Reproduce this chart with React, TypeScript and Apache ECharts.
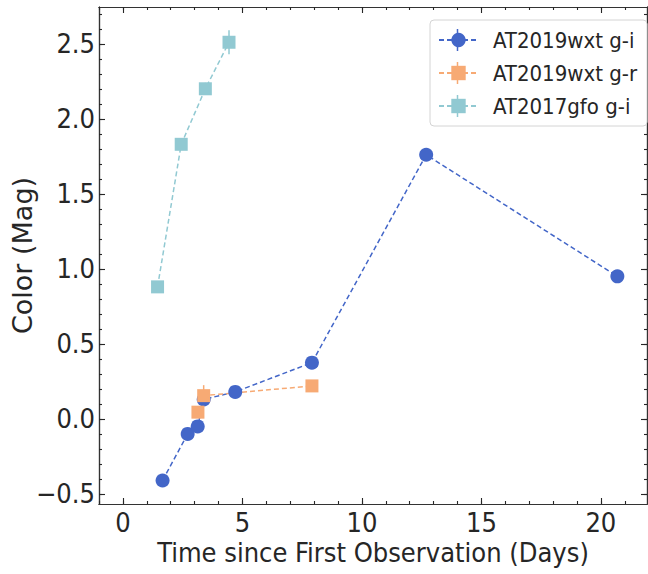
import React, { useEffect, useRef } from 'react';
import * as echarts from 'echarts';

// ---- data ----
const giName = 'AT2019wxt g-i';
const giX = [1.66, 2.71, 3.13, 3.38, 4.7, 7.91, 12.69, 20.69];
const giY = [-0.41, -0.1, -0.05, 0.13, 0.18, 0.375, 1.76, 0.95];
const giErr = [0.03, 0.03, 0.03, 0.03, 0.03, 0.03, 0.03, 0.03];

const grName = 'AT2019wxt g-r';
const grX = [3.14, 3.38, 7.91];
const grY = [0.045, 0.155, 0.22];
const grErr = [0.03, 0.07, 0.03];

const gfoName = 'AT2017gfo g-i';
const gfoX = [1.45, 2.44, 3.45, 4.44];
const gfoY = [0.88, 1.83, 2.2, 2.51];
const gfoErr = [0.03, 0.03, 0.04, 0.08];

// ---- ticks ----
const xMajor = [0, 5, 10, 15, 20];
const xMinor = [-1, 0, 1, 2, 3, 4, 5, 6, 7, 8, 9, 10, 11, 12, 13, 14, 15, 16, 17, 18, 19, 20, 21];
const yMajor = [-0.5, 0, 0.5, 1, 1.5, 2, 2.5];
const yMinor = [-0.5, -0.4, -0.3, -0.2, -0.1, 0, 0.1, 0.2, 0.3, 0.4, 0.5, 0.6, 0.7, 0.8, 0.9, 1, 1.1, 1.2, 1.3, 1.4, 1.5, 1.6, 1.7, 1.8, 1.9, 2, 2.1, 2.2, 2.3, 2.4, 2.5, 2.6, 2.7];

const xTitle = 'Time since First Observation (Days)';
const yTitle = 'Color (Mag)';

const X_MIN = -1;
const X_MAX = 21.93;
const Y_MIN = -0.567;
const Y_MAX = 2.745;

const C_GI = '#4366c8';
const C_GR = '#f7aa74';
const C_GFO = '#91c9d2';

const FONT_C = '"DejaVu Sans Condensed", "DejaVu Sans", sans-serif';
const FONT = '"DejaVu Sans", sans-serif';
const INK = '#262626';

// legend geometry
const LEG_LEFT = 430;
const LEG_TOP = 20;
const LEG_PAD = [8, 10, 8, 8];
const LEG_ICON_W = 39;
const LEG_ROW_H = 24;
const LEG_GAP = 9;

function axis(dir: 'x' | 'y', position: string, ticks: number[], len: number, extra: any = {}) {
  return {
    type: 'value',
    position,
    min: dir === 'x' ? X_MIN : Y_MIN,
    max: dir === 'x' ? X_MAX : Y_MAX,
    splitLine: { show: false },
    axisLine: { show: true, onZero: false, lineStyle: { color: '#333', width: 1.2 } },
    axisTick: { show: true, inside: true, length: len, customValues: ticks, lineStyle: { color: INK, width: 1.1 } },
    axisLabel: { show: false },
    ...extra,
  };
}

function errSeries(name: string, xs: number[], ys: number[], es: number[], color: string) {
  return {
    type: 'custom',
    name,
    xAxisIndex: 0,
    yAxisIndex: 0,
    silent: true,
    dimensions: ['x', 'y', 'e'],
    encode: { x: 0, y: 1 },
    data: xs.map((x, i) => [x, ys[i], es[i]]),
    renderItem: (_p: any, api: any) => {
      const x = api.value(0);
      const y = api.value(1);
      const e = api.value(2);
      const a = api.coord([x, y - e]);
      const b = api.coord([x, y + e]);
      return {
        type: 'line',
        shape: { x1: a[0], y1: a[1], x2: b[0], y2: b[1] },
        style: { stroke: color, lineWidth: 1.5 },
      };
    },
  };
}

function lineSeries(name: string, xs: number[], ys: number[], color: string, symbol: string, size: number) {
  return {
    type: 'line',
    name,
    xAxisIndex: 0,
    yAxisIndex: 0,
    data: xs.map((x, i) => [x, ys[i]]),
    symbol,
    symbolSize: size,
    showSymbol: true,
    lineStyle: { color, width: 1.5, type: [5, 3] },
    itemStyle: { color, opacity: 1 },
  };
}

export default function App() {
  const ref = useRef<HTMLDivElement>(null);
  useEffect(() => {
    document.body.style.margin = '0';
    const chart = echarts.init(ref.current!, null, { renderer: 'svg' });
    const fmt = (v: number) => (v < 0 ? '\u2212' + Math.abs(v).toFixed(1) : v.toFixed(1));
    const legendColors = [C_GI, C_GR, C_GFO];
    const whiskers = legendColors.map((c, i) => {
      const cy = LEG_TOP + LEG_PAD[0] + LEG_ROW_H / 2 + i * (LEG_ROW_H + LEG_GAP);
      const cx = LEG_LEFT + LEG_PAD[3] + LEG_ICON_W / 2;
      return {
        type: 'line',
        z: 100,
        silent: true,
        shape: { x1: cx, y1: cy - 11, x2: cx, y2: cy + 11 },
        style: { stroke: c, lineWidth: 1.5 },
      };
    });
    chart.setOption({
      animation: false,
      backgroundColor: '#ffffff',
      grid: { left: 99, top: 7, right: 1, bottom: 70, containLabel: false, outerBoundsMode: 'none' },
      xAxis: [
        axis('x', 'bottom', xMajor, 6, {
          axisLabel: { show: true, customValues: xMajor, margin: 5, fontSize: 27, fontFamily: FONT_C, color: INK },
          name: xTitle,
          nameLocation: 'middle',
          nameGap: 35,
          nameMoveOverlap: false,
          nameTextStyle: { fontSize: 27, fontFamily: FONT_C, color: INK },
        }),
        axis('x', 'bottom', xMinor, 3),
        axis('x', 'top', xMajor, 6),
        axis('x', 'top', xMinor, 3),
      ],
      yAxis: [
        axis('y', 'left', yMajor, 6, {
          axisLabel: { show: true, customValues: yMajor, margin: 4, fontSize: 27, fontFamily: FONT_C, color: INK, formatter: fmt },
          name: yTitle,
          nameLocation: 'middle',
          nameGap: 63,
          nameRotate: 90,
          nameMoveOverlap: false,
          nameTextStyle: { fontSize: 27, fontFamily: FONT, color: INK },
        }),
        axis('y', 'left', yMinor, 3),
        axis('y', 'right', yMajor, 6),
        axis('y', 'right', yMinor, 3),
      ],
      legend: {
        data: [giName, grName, gfoName],
        orient: 'vertical',
        left: LEG_LEFT,
        top: LEG_TOP,
        padding: LEG_PAD,
        itemWidth: LEG_ICON_W,
        itemHeight: 18,
        itemGap: LEG_GAP,
        backgroundColor: '#ffffff',
        borderColor: '#d4d4d4',
        borderWidth: 1,
        borderRadius: 4,
        textStyle: { fontSize: 22, fontFamily: FONT_C, color: INK, lineHeight: LEG_ROW_H, padding: [0, 0, 0, 10] },
      },
      graphic: whiskers,
      series: [
        errSeries('err-gi', giX, giY, giErr, C_GI),
        lineSeries(giName, giX, giY, C_GI, 'circle', 14),
        errSeries('err-gr', grX, grY, grErr, C_GR),
        lineSeries(grName, grX, grY, C_GR, 'rect', 13),
        errSeries('err-gfo', gfoX, gfoY, gfoErr, C_GFO),
        lineSeries(gfoName, gfoX, gfoY, C_GFO, 'rect', 13),
      ],
    });
    return () => chart.dispose();
  }, []);
  return <div ref={ref} style={{ width: 648, height: 574 }} />;
}
